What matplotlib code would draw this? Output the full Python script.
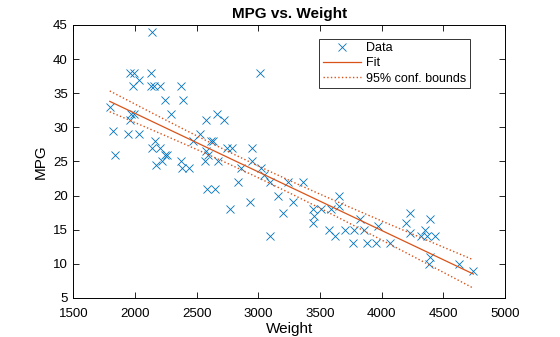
import numpy as np
import matplotlib
matplotlib.use("Agg")
import matplotlib.pyplot as plt

plt.rcParams['font.family'] = ['Liberation Sans', 'DejaVu Sans']

weight = [1795, 1825, 1835, 1940, 1962, 1994, 1980, 1965, 1990, 1962,
          2029, 2035, 2130, 2135, 2130, 2155, 2205, 2135, 2158, 2168,
          2205, 2222, 2245, 2245, 2258, 2292, 2370, 2392, 2375, 2378,
          2434, 2470, 2527, 2575, 2568, 2578, 2590, 2582, 2612, 2632,
          2665, 2651, 2675, 2722, 2745, 2788, 2770, 2835, 2863, 2930,
          2946, 2950, 3012, 3022, 3047, 3090, 3090, 3158, 3196, 3236,
          3277, 3358, 3439, 3447, 3439, 3509, 3574, 3590, 3617, 3655,
          3650, 3698, 3766, 3771, 3825, 3860, 3879, 3952, 3973, 4063,
          4198, 4225, 4225, 4319, 4352, 4366, 4395, 4433, 4392, 4384,
          4630, 4743]
mpg = [33, 29.5, 26, 29, 38, 38, 36, 32, 32, 31,
       37, 29, 38, 44, 36, 36, 36, 27, 28, 24.5,
       27, 25, 34, 26, 26, 32, 36, 34, 25, 24,
       24, 28, 29, 31, 25, 26.5, 26, 21, 28, 28,
       32, 21, 25, 31, 27, 27, 18, 22, 24, 19,
       27, 25, 38, 24, 23, 22, 14, 20, 17.5, 22,
       19, 22, 18, 17, 16, 18, 15, 18, 14, 20,
       18.5, 15, 13, 15, 16.5, 15, 13, 13, 15.5, 13,
       16, 17.5, 14.5, 14, 15, 14, 16.5, 14, 11, 10,
       10, 9]

x = np.asarray(weight, dtype=float)
y = np.asarray(mpg, dtype=float)
n = x.size

# Least-squares line and 95% pointwise confidence band for the mean response
A = np.column_stack([np.ones(n), x])
beta, *_ = np.linalg.lstsq(A, y, rcond=None)
resid = y - A @ beta
s = np.sqrt(resid @ resid / (n - 2))
t_crit = 1.986  # t(0.975, ~90 dof)
xbar = x.mean()
sxx = np.sum((x - xbar) ** 2)

xf = np.linspace(x.min(), x.max(), 200)
yf = beta[0] + beta[1] * xf
half = t_crit * s * np.sqrt(1.0 / n + (xf - xbar) ** 2 / sxx)

blue = '#0072BD'
orange = '#D95319'

fig = plt.figure(figsize=(5.6, 3.37), dpi=100)
ax = fig.add_axes([0.131, 0.116, 0.771, 0.810])

ax.plot(x, y, 'x', color=blue, markersize=6, markeredgewidth=0.6, label='Data')
ax.plot(xf, yf, '-', color=orange, linewidth=0.9, label='Fit')
ax.plot(xf, yf + half, ':', color=orange, linewidth=1.0, label='95% conf. bounds')
ax.plot(xf, yf - half, ':', color=orange, linewidth=1.0)

ax.set_xlim(1500, 5000)
ax.set_ylim(5, 45)
ax.set_xticks(np.arange(1500, 5001, 500))
ax.set_yticks(np.arange(5, 46, 5))
ax.tick_params(direction='in', top=True, right=True, length=4, width=0.6,
               labelsize=9.5)
ax.tick_params(axis='x', pad=7)
ax.tick_params(axis='y', pad=4)
for sp in ax.spines.values():
    sp.set_linewidth(0.7)

ax.set_xlabel('Weight', fontsize=11, labelpad=2)
ax.set_ylabel('MPG', fontsize=11, labelpad=4)
ax.set_title('MPG vs. Weight', fontsize=11, fontweight='bold', pad=5)

leg = ax.legend(loc='upper right', bbox_to_anchor=(0.919, 0.95), fontsize=9,
                frameon=True, fancybox=False, edgecolor='black',
                handlelength=3.0, handletextpad=0.45, borderpad=0.3,
                labelspacing=0.25, borderaxespad=0.0)
leg.get_frame().set_linewidth(0.7)

fig.savefig('out.png', dpi=100)
